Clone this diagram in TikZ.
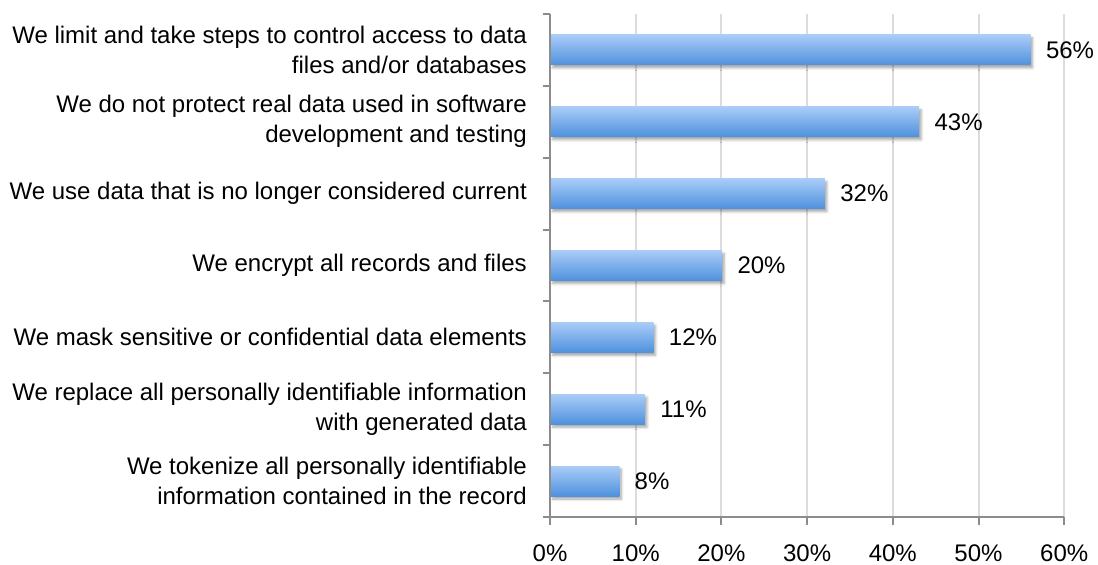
\documentclass[tikz,border=0pt]{standalone}
\usepackage{fontspec}
\setmainfont{Liberation Sans}
\usetikzlibrary{shadows.blur}

\definecolor{barTop}{HTML}{A9CCF8}
\definecolor{barBottom}{HTML}{4F91DD}
\definecolor{axisGray}{HTML}{8C8C8C}
\definecolor{gridGray}{HTML}{DCDCDC}

\tikzset{
  bar/.style={draw=none, rectangle, minimum height=30pt, inner sep=0pt,
    top color=barTop, bottom color=barBottom,
    blur shadow={shadow xshift=2pt, shadow yshift=-3pt,
      shadow blur radius=2.5pt, shadow opacity=35}},
  catlabel/.style={anchor=east, align=right, inner sep=0pt},
  vallabel/.style={anchor=west, inner sep=0pt, xshift=15pt},
  ticklabel/.style={anchor=base, inner sep=0pt}
}

\begin{document}
\begin{tikzpicture}[x=1pt, y=-1pt, font=\fontsize{24}{30}\selectfont]
    \useasboundingbox (0,0) rectangle (1098,565);
    % grid lines every 10%
    \foreach \g in {1,...,6}
      \draw[gridGray, line width=2pt] (550+\g*85.7,14) -- (550+\g*85.7,517);
    % bars, values and category texts
    \foreach \i/\v/\txt in {
      1/56/{We limit and take steps to control access to data\\files and/or databases},
      2/43/{We do not protect real data used in software\\development and testing},
      3/32/{We use data that is no longer considered current},
      4/20/{We encrypt all records and files},
      5/12/{We mask sensitive or confidential data elements},
      6/11/{We replace all personally identifiable information\\with generated data},
      7/8/{We tokenize all personally identifiable\\information contained in the record}} {
      \node[bar, minimum width=\v*8.57pt, anchor=west] (bar\i) at (550.5,{14+(\i-0.5)*71.86}) {};
      \node[vallabel] (val\i) at (bar\i.east) {\v\%};
      \node[catlabel] (cat\i) at (527,{14+(\i-0.5)*71.86}) {\txt};
    }
    % axes with tick marks
    \draw[axisGray, line width=2pt] (550,14) -- (550,517) -- (1064,517);
    \foreach \i in {0,...,7}
      \draw[axisGray, line width=2pt] (543,{14+\i*71.86}) -- (550,{14+\i*71.86});
    \foreach \g in {0,...,6} {
      \draw[axisGray, line width=2pt] (550+\g*85.7,517) -- (550+\g*85.7,525);
      \node[ticklabel] (tick\g) at (550+\g*85.7,561) {\the\numexpr\g*10\relax\%};
    }
\end{tikzpicture}
\end{document}
